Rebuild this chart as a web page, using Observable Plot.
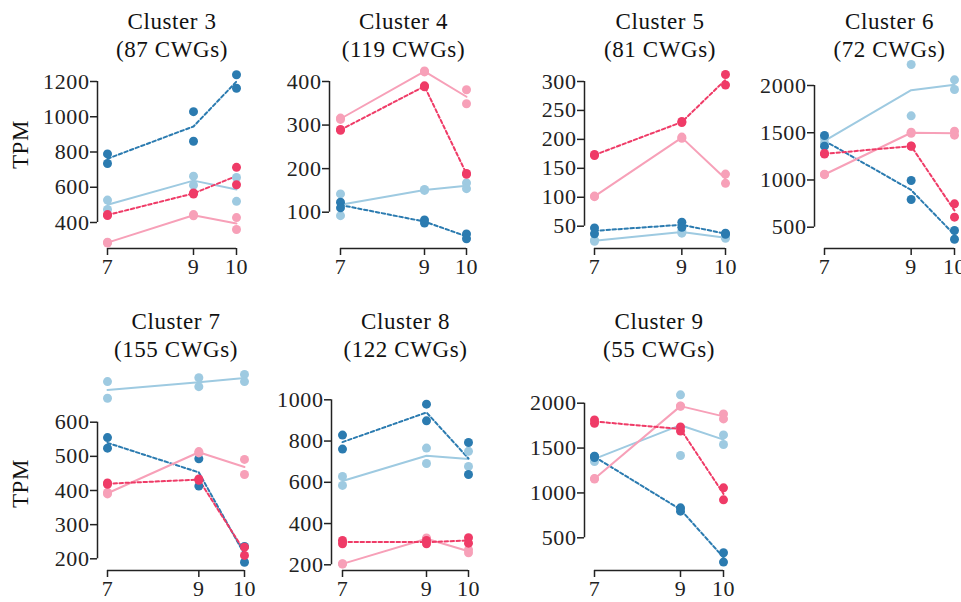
<!DOCTYPE html>
<html><head><meta charset="utf-8">
<script src="https://cdn.jsdelivr.net/npm/d3@7"></script>
<script src="https://cdn.jsdelivr.net/npm/@observablehq/plot@0.6"></script>
<style>
body{margin:0;background:#fff;}
#wrap{position:relative;width:961px;height:602px;overflow:hidden;background:#fff;font-family:"Liberation Serif","Times New Roman",serif;}
#wrap svg{position:absolute;}
#wrap svg text{letter-spacing:0.6px;}
</style></head><body><div id="wrap"></div>
<script>
// ---------- data ----------
const stages = [7, 9, 10];
const seriesKeys = ["ctrlLight", "ctrlDark", "trtLight", "trtDark"];
const seriesColors = ["#9ecae1", "#2b7bb0", "#f7a0b8", "#ef3b67"];
const dashedSeries = ["ctrlDark", "trtDark"];
const clusterLabels = [
  "Cluster 3\n(87 CWGs)", "Cluster 4\n(119 CWGs)", "Cluster 5\n(81 CWGs)", "Cluster 6\n(72 CWGs)",
  "Cluster 7\n(155 CWGs)", "Cluster 8\n(122 CWGs)", "Cluster 9\n(55 CWGs)"
];
// replicate values: [stage7 a, stage7 b, stage9 a, stage9 b, stage10 a, stage10 b]
const c3LightBlue = [527, 474, 663, 612, 655, 520];
const c3DarkBlue  = [789, 735, 1029, 861, 1238, 1162];
const c3Pink      = [288, 284, 445, 438, 428, 360];
const c3Red       = [445, 440, 568, 562, 713, 614];

const c4LightBlue = [142, 92, 152, 150, 167, 154];
const c4DarkBlue  = [123, 110, 82, 75, 50, 39];
const c4Pink      = [316, 313, 424, 422, 381, 349];
const c4Red       = [290, 288, 390, 388, 189, 187];

const c5LightBlue = [26, 24, 42, 38, 31, 29];
const c5DarkBlue  = [47, 37, 57, 48, 38, 36];
const c5Pink      = [102, 101, 204, 202, 140, 124];
const c5Red       = [174, 172, 231, 229, 312, 294];

const c6LightBlue = [1440, 1390, 2222, 1679, 2060, 1958];
const c6DarkBlue  = [1471, 1358, 994, 793, 465, 373];
const c6Pink      = [1060, 1056, 1505, 1495, 1517, 1474];
const c6Red       = [1280, 1274, 1360, 1356, 747, 606];

const c7LightBlue = [719, 670, 730, 704, 740, 719];
const c7DarkBlue  = [555, 524, 493, 413, 236, 190];
const c7Pink      = [394, 390, 514, 510, 491, 447];
const c7Red       = [422, 418, 434, 430, 210, 234];

const c8LightBlue = [628, 585, 766, 691, 750, 677];
const c8DarkBlue  = [829, 761, 979, 898, 793, 638];
const c8Pink      = [205, 204, 330, 322, 273, 258];
const c8Red       = [318, 302, 318, 302, 331, 305];

const c9LightBlue = [1350, 1410, 2093, 1417, 1647, 1540];
const c9DarkBlue  = [1410, 1395, 834, 797, 333, 229];
const c9Pink      = [1160, 1155, 1970, 1965, 1881, 1825];
const c9Red       = [1814, 1777, 1735, 1690, 1057, 923];

const yTicks3 = [400, 600, 800, 1000, 1200];
const yTicks4 = [100, 200, 300, 400];
const yTicks5 = [50, 100, 150, 200, 250, 300];
const yTicks6 = [500, 1000, 1500, 2000];
const yTicks7 = [200, 300, 400, 500, 600];
const yTicks8 = [200, 400, 600, 800, 1000];
const yTicks9 = [500, 1000, 1500, 2000];

// ---------- layout (pixels) ----------
const panels = [
  {label: clusterLabels[0], series: [c3LightBlue, c3DarkBlue, c3Pink, c3Red], ticks: yTicks3, left: 0,   top: 0,   width: 250, height: 300, axisX: 97,  x7: 107, x10: 236, p1: 81,    p2: 222,   xAxisY: 248, tpm: true,  tpmDy: 0},
  {label: clusterLabels[1], series: [c4LightBlue, c4DarkBlue, c4Pink, c4Red], ticks: yTicks4, left: 240, top: 0,   width: 240, height: 300, axisX: 329, x7: 340, x10: 466, p1: 81,    p2: 211.7, xAxisY: 248},
  {label: clusterLabels[2], series: [c5LightBlue, c5DarkBlue, c5Pink, c5Red], ticks: yTicks5, left: 480, top: 0,   width: 250, height: 300, axisX: 584, x7: 594, x10: 725, p1: 81,    p2: 225.7, xAxisY: 248},
  {label: clusterLabels[3], series: [c6LightBlue, c6DarkBlue, c6Pink, c6Red], ticks: yTicks6, left: 720, top: 0,   width: 241, height: 300, axisX: 814, x7: 824, x10: 954, p1: 85,    p2: 226.7, xAxisY: 248},
  {label: clusterLabels[4], series: [c7LightBlue, c7DarkBlue, c7Pink, c7Red], ticks: yTicks7, left: 0,   top: 300, width: 250, height: 302, axisX: 97,  x7: 107, x10: 244, p1: 421.7, p2: 558.3, xAxisY: 570, tpm: true, tpmDy: 28},
  {label: clusterLabels[5], series: [c8LightBlue, c8DarkBlue, c8Pink, c8Red], ticks: yTicks8, left: 240, top: 300, width: 240, height: 302, axisX: 331, x7: 342, x10: 468, p1: 399.3, p2: 564.3, xAxisY: 570},
  {label: clusterLabels[6], series: [c9LightBlue, c9DarkBlue, c9Pink, c9Red], ticks: yTicks9, left: 480, top: 300, width: 250, height: 302, axisX: 584, x7: 594, x10: 723, p1: 402.7, p2: 537.3, xAxisY: 570}
];

const FONT = "Liberation Serif, Times New Roman, serif";
const AXIS = "#222";
const wrap = document.getElementById("wrap");

for (const p of panels) {
  const tidy = [];
  p.series.forEach((arr, si) => {
    stages.forEach((st, i) => {
      tidy.push({x: st, y: arr[2 * i], s: seriesKeys[si]});
      tidy.push({x: st, y: arr[2 * i + 1], s: seriesKeys[si]});
    });
  });
  const vTop = p.ticks[p.ticks.length - 1], vBot = p.ticks[0];
  // pixel positions p1 / p2 belong to the top / bottom tick values
  const vAt = y => vTop + (y - p.p1) * (vBot - vTop) / (p.p2 - p.p1);
  const mt = 40;
  const mb = p.top + p.height - p.xAxisY;
  const yMin = vAt(p.xAxisY), yMax = vAt(p.top + mt);
  const ml = p.axisX - p.left, il = p.x7 - p.axisX, mr = p.left + p.width - p.x10;

  const lineMarks = seriesKeys.map((k, i) =>
    Plot.line(tidy.filter(d => d.s === k), Plot.groupX({y: "mean"}, {
      x: "x", y: "y", stroke: seriesColors[i], strokeWidth: 2,
      strokeDasharray: dashedSeries.includes(k) ? "3.5,2.5" : null
    }))
  );

  const marks = [
    Plot.ruleX([7], {y1: vBot, y2: vTop, dx: -il, stroke: AXIS, strokeWidth: 1.5}),
    Plot.ruleY([yMin], {x1: 7, x2: 10, stroke: AXIS, strokeWidth: 1.5}),
    Plot.axisY({ticks: p.ticks, tickSize: 7, tickPadding: 1, label: null, fontSize: 22, stroke: AXIS, strokeWidth: 1.5, fill: AXIS, tickFormat: d3.format("d")}),
    Plot.axisX({ticks: stages, tickSize: 7, tickPadding: 3, label: null, fontSize: 22, stroke: AXIS, strokeWidth: 1.5, fill: AXIS, tickFormat: d3.format("d")}),
    ...lineMarks,
    Plot.dot(tidy, {x: "x", y: "y", fill: "s", r: 4.5, stroke: "none"}),
    Plot.text([p.label], {x: () => (stages[0] + stages[stages.length - 1]) / 2, frameAnchor: "top", dy: -6.5,
      lineAnchor: "middle", lineHeight: 1.2, fontSize: 23, fill: "#111", fontFamily: FONT})
  ];
  if (p.tpm) {
    marks.push(Plot.text(["TPM"], {frameAnchor: "left", dx: -(ml - 20), dy: p.tpmDy, rotate: -90,
      textAnchor: "middle", lineAnchor: "middle", fontSize: 23, fill: "#111", fontFamily: FONT}));
  }

  const svg = Plot.plot({
    width: p.width, height: p.height,
    marginTop: mt, marginBottom: mb, marginLeft: ml, marginRight: mr,
    insetLeft: il, insetRight: 0, insetTop: 0, insetBottom: 0,
    x: {domain: [7, 10]},
    y: {domain: [yMin, yMax]},
    color: {type: "ordinal", domain: seriesKeys, range: seriesColors},
    style: {background: "transparent", overflow: "visible", fontFamily: FONT, fontSize: "22px", color: AXIS},
    marks
  });
  svg.style.left = p.left + "px";
  svg.style.top = p.top + "px";
  wrap.appendChild(svg);
}
</script>
</body></html>
